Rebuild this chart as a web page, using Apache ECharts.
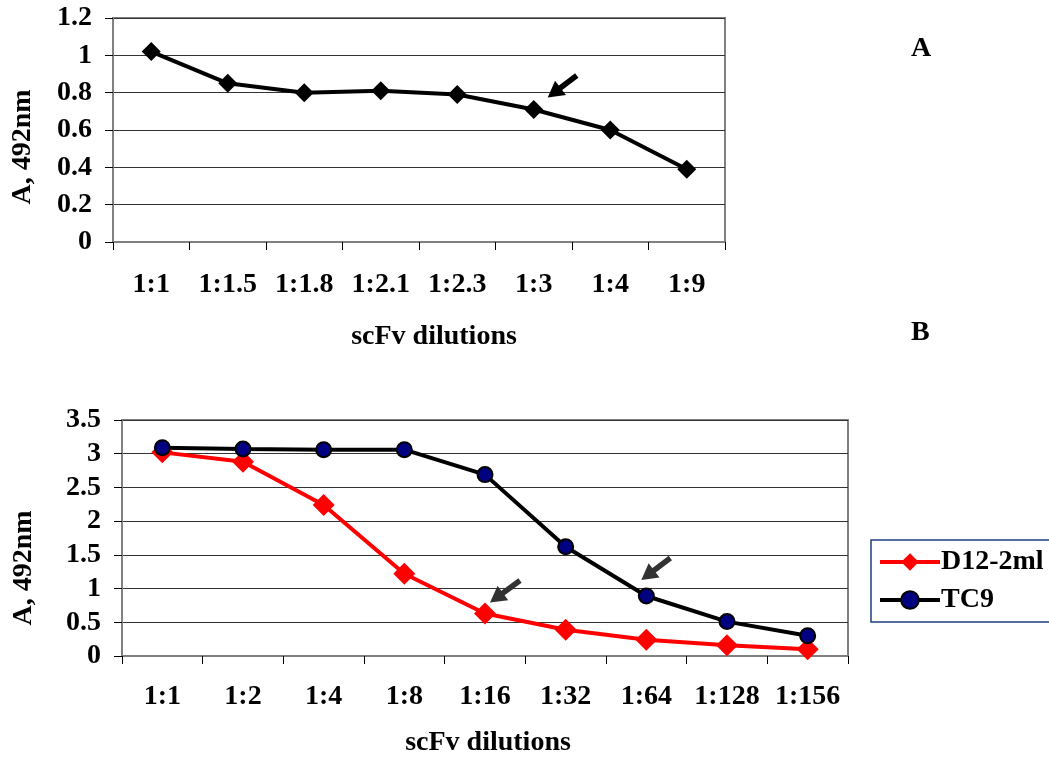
<!DOCTYPE html>
<html>
<head>
<meta charset="utf-8">
<script src="https://cdn.jsdelivr.net/npm/echarts@6/dist/echarts.min.js"></script>
<style>
html,body{margin:0;padding:0;background:#fff;}
#c{width:1049px;height:758px;}
</style>
</head>
<body>
<div id="c"></div>
<script>
// ---- data ----
const catA = ['1:1','1:1.5','1:1.8','1:2.1','1:2.3','1:3','1:4','1:9'];
const valA = [1.02,0.85,0.80,0.81,0.79,0.71,0.60,0.39];
const catB = ['1:1','1:2','1:4','1:8','1:16','1:32','1:64','1:128','1:156'];
const d12 = [3.02,2.88,2.24,1.22,0.63,0.39,0.24,0.16,0.10];
const tc9 = [3.09,3.07,3.06,3.06,2.69,1.62,0.89,0.51,0.30];
const yTicksA = {min:0,max:1.2,interval:0.2};
const yTicksB = {min:0,max:3.5,interval:0.5};

const FONT = "'Liberation Serif','Times New Roman',serif";
const txt = {fontFamily:FONT,fontWeight:'bold',fontSize:28,color:'#000'};

const chart = echarts.init(document.getElementById('c'), null, {renderer:'canvas'});

function xAxis(gridIndex, cats, margin, nameGap, pad){
  return {
    type:'category', gridIndex, data:cats, boundaryGap:true,
    axisLine:{show:true,lineStyle:{color:'#808080',width:2}},
    axisTick:{show:true,length:8,inside:false,lineStyle:{color:'#000',width:1}},
    axisLabel:Object.assign({margin, interval:0}, txt),
    name:'scFv dilutions', nameLocation:'middle', nameGap,
    nameTextStyle:Object.assign({padding:pad}, txt),
    splitLine:{show:false}
  };
}
function yAxis(gridIndex, t, nameGap, pad){
  return {
    type:'value', gridIndex, min:t.min, max:t.max, interval:t.interval,
    axisLine:{show:true,lineStyle:{color:'#808080',width:2}},
    axisTick:{show:true,length:8,inside:false,lineStyle:{color:'#000',width:1}},
    axisLabel:Object.assign({margin:21}, txt),
    splitLine:{show:true,lineStyle:{color:'#333',width:1}},
    name:'A, 492nm', nameLocation:'middle', nameGap, nameRotate:90,
    nameTextStyle:Object.assign({padding:pad}, txt)
  };
}

chart.setOption({
  animation:false,
  backgroundColor:'#fff',
  grid:[
    {left:113,top:18,width:612,height:224,show:true,borderColor:'#808080',borderWidth:2,backgroundColor:'#fff'},
    {left:122,top:420,width:726,height:236,show:true,borderColor:'#808080',borderWidth:2,backgroundColor:'#fff'}
  ],
  xAxis:[ xAxis(0,catA,29,81,[0,0,0,30]), xAxis(1,catB,27,73,[0,0,0,6]) ],
  yAxis:[ yAxis(0,yTicksA,76,[0,34,0,0]), yAxis(1,yTicksB,84,[0,60,0,0]) ],
  legend:{
    show:true, data:['D12-2ml','TC9'], orient:'vertical',
    left:871, top:540, itemWidth:60, itemHeight:22, itemGap:10,
    padding:[8,30,8,7],
    borderColor:'#1f3f7f', borderWidth:1.5, backgroundColor:'#fff',
    lineStyle:{width:4},
    textStyle:Object.assign({}, txt, {padding:[0,0,0,-4]})
  },
  series:[
    {name:'A', type:'line', xAxisIndex:0, yAxisIndex:0, data:valA,
     symbol:'diamond', symbolSize:19,
     lineStyle:{color:'#000',width:4}, itemStyle:{color:'#000'}},
    {name:'D12-2ml', type:'line', xAxisIndex:1, yAxisIndex:1, data:d12,
     symbol:'diamond', symbolSize:22,
     lineStyle:{color:'#ff0000',width:4}, itemStyle:{color:'#ff0000'}},
    {name:'TC9', type:'line', xAxisIndex:1, yAxisIndex:1, data:tc9,
     symbol:'circle', symbolSize:15,
     lineStyle:{color:'#000',width:4}, itemStyle:{color:'#000080',borderColor:'#000',borderWidth:2}}
  ]
});

// ---- arrows (anchored to data points) and panel letters ----
function arrow(gi, cat, val, tipOff, tailOff, color){
  const p = chart.convertToPixel({xAxisIndex:gi,yAxisIndex:gi},[cat,val]);
  const tip = [p[0]+tipOff[0], p[1]+tipOff[1]];
  const tail = [p[0]+tailOff[0], p[1]+tailOff[1]];
  const dx = tip[0]-tail[0], dy = tip[1]-tail[1];
  const L = Math.sqrt(dx*dx+dy*dy), ux = dx/L, uy = dy/L;
  const hl = 16, hw = 9;
  const base = [tip[0]-ux*hl, tip[1]-uy*hl];
  return [
    {type:'line', shape:{x1:tail[0],y1:tail[1],x2:base[0]+ux*2,y2:base[1]+uy*2},
     style:{stroke:color,lineWidth:5.5}},
    {type:'polygon', shape:{points:[tip,[base[0]-uy*hw,base[1]+ux*hw],[base[0]+uy*hw,base[1]-ux*hw]]},
     style:{fill:color}}
  ];
}
const g = [].concat(
  arrow(0,'1:3',valA[5],[14,-12],[43,-34],'#000'),
  arrow(1,'1:16',d12[4],[5,-11],[35,-33],'#333'),
  arrow(1,'1:64',tc9[6],[-5,-16],[24,-38],'#333'),
  [
    {type:'text', left:911, top:35, style:{text:'A', font:"bold 28px "+FONT, fill:'#000'}},
    {type:'text', left:911, top:319, style:{text:'B', font:"bold 28px "+FONT, fill:'#000'}}
  ]
);
chart.setOption({graphic:g});
</script>
</body>
</html>
